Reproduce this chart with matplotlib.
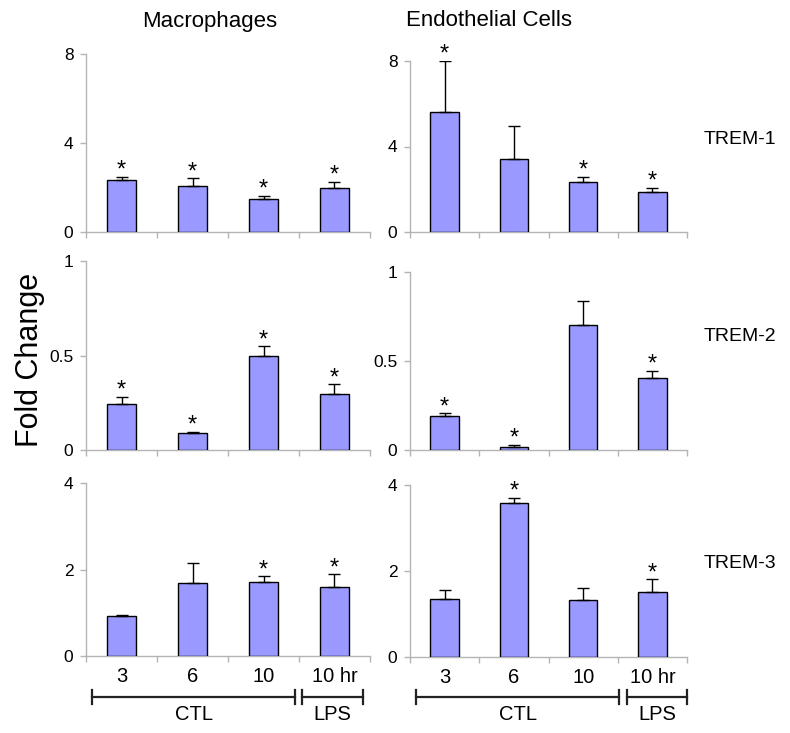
import matplotlib
matplotlib.use("Agg")
import matplotlib.pyplot as plt
from matplotlib.transforms import blended_transform_factory
import numpy as np

plt.rcParams['font.family'] = ['Liberation Sans', 'DejaVu Sans']

categories = ["3", "6", "10", "10 hr"]
columns = ["Macrophages", "Endothelial Cells"]
genes = ["TREM-1", "TREM-2", "TREM-3"]

# Macrophages
mac_trem1 = [2.34, 2.08, 1.48, 1.99]
mac_trem1_err = [0.15, 0.33, 0.15, 0.27]
mac_trem1_sig = [1, 1, 1, 1]
mac_trem2 = [0.242, 0.092, 0.496, 0.296]
mac_trem2_err = [0.040, 0.005, 0.054, 0.052]
mac_trem2_sig = [1, 1, 1, 1]
mac_trem3 = [0.92, 1.68, 1.70, 1.59]
mac_trem3_err = [0.02, 0.48, 0.14, 0.30]
mac_trem3_sig = [0, 0, 1, 1]

# Endothelial cells
endo_trem1 = [5.60, 3.43, 2.32, 1.88]
endo_trem1_err = [2.40, 1.52, 0.26, 0.19]
endo_trem1_sig = [1, 0, 1, 1]
endo_trem2 = [0.190, 0.017, 0.700, 0.404]
endo_trem2_err = [0.016, 0.011, 0.139, 0.040]
endo_trem2_sig = [1, 1, 0, 1]
endo_trem3 = [1.36, 3.59, 1.32, 1.52]
endo_trem3_err = [0.19, 0.11, 0.28, 0.29]
endo_trem3_sig = [0, 1, 0, 1]

yticks_rows = [[0, 4, 8], [0, 0.5, 1], [0, 2, 4]]
ytick_labels_rows = [["0", "4", "8"], ["0", "0.5", "1"], ["0", "2", "4"]]

panels = [
    [(mac_trem1, mac_trem1_err, mac_trem1_sig), (endo_trem1, endo_trem1_err, endo_trem1_sig)],
    [(mac_trem2, mac_trem2_err, mac_trem2_sig), (endo_trem2, endo_trem2_err, endo_trem2_sig)],
    [(mac_trem3, mac_trem3_err, mac_trem3_sig), (endo_trem3, endo_trem3_err, endo_trem3_sig)],
]

W, H = 790, 733
fig = plt.figure(figsize=(W / 100, H / 100), dpi=100)

# axes boxes in pixels: (left, top, right, bottom)
boxes = [
    [(86, 54, 370, 232), (410, 61, 687, 232)],
    [(86, 261, 370, 450), (410, 272, 687, 450)],
    [(86, 483, 370, 656), (410, 485, 687, 657)],
]

bar_color = "#9999ff"
spine_color = "#b4b4b4"
x = np.arange(len(categories))

axes = [[None, None], [None, None], [None, None]]
for r in range(3):
    for c in range(2):
        l, t, rr, b = boxes[r][c]
        ax = fig.add_axes([l / W, 1 - b / H, (rr - l) / W, (b - t) / H])
        axes[r][c] = ax
        vals, errs, sig = panels[r][c]
        ax.bar(x, vals, width=0.41, color=bar_color, edgecolor="black", linewidth=1.0, zorder=3)
        ax.errorbar(x, vals, yerr=[np.zeros(len(vals)), errs], fmt="none", ecolor="black",
                    elinewidth=1.0, capsize=4.5, capthick=1.0, zorder=4)
        for xi, v, e, s in zip(x, vals, errs, sig):
            if s:
                ax.annotate("*", (xi, v + e), xytext=(0, 0), textcoords="offset points",
                            ha="center", va="baseline", fontsize=17, color="black",
                            annotation_clip=False)
        ax.set_xlim(-0.5, len(categories) - 0.5)
        ax.set_ylim(0, yticks_rows[r][-1])
        ax.set_yticks(yticks_rows[r])
        ax.set_yticklabels(ytick_labels_rows[r])
        ax.set_xticks(np.arange(-0.5, len(categories), 1.0))
        ax.set_xticklabels([])
        for s in ["top", "right"]:
            ax.spines[s].set_visible(False)
        for s in ["left", "bottom"]:
            ax.spines[s].set_color(spine_color)
            ax.spines[s].set_linewidth(1.0)
        ax.tick_params(axis="both", colors=spine_color, length=4, width=1.0, direction="out")
        ax.tick_params(axis="y", labelcolor="black", labelsize=12.5, pad=5)
        ax.set_facecolor("none")
        if r == 2:
            ax.set_xticks(x, minor=True)
            ax.set_xticklabels(categories, minor=True)
            ax.tick_params(axis="x", which="minor", length=0, labelsize=14.5,
                           labelcolor="black", pad=8)

# column titles
for c, name in enumerate(columns):
    cx = [210, 489][c]
    fig.text(cx / W, 1 - 21 / H, name, ha="center", va="center", fontsize=16)

# row labels
for r, g in enumerate(genes):
    cy = [140, 337, 563][r]
    fig.text(740 / W, 1 - cy / H, g, ha="center", va="center", fontsize=14)

# y label
fig.text(30 / W, 1 - 360 / H, "Fold Change", rotation=90, ha="center", va="center", fontsize=22)

# brackets under bottom row (x in px)
brackets = [
    [(92, 295, "CTL"), (302, 363, "LPS")],
    [(416, 619, "CTL"), (627, 687, "LPS")],
]
by = 1 - 697 / H
cap = 4 / H
ty = 1 - 715 / H
for c in range(2):
    for (x0, x1, lab) in brackets[c]:
        fx0, fx1 = x0 / W, x1 / W
        fig.add_artist(plt.Line2D([fx0, fx1], [by, by], color="#222222", lw=1.6,
                                  transform=fig.transFigure))
        for fx in (fx0, fx1):
            fig.add_artist(plt.Line2D([fx, fx], [by - cap * 1.8, by + cap * 1.8], color="#222222",
                                      lw=1.6, transform=fig.transFigure))
        fig.text((fx0 + fx1) / 2, ty, lab, ha="center", va="center", fontsize=14.5)

fig.savefig("out.png", dpi=100)
